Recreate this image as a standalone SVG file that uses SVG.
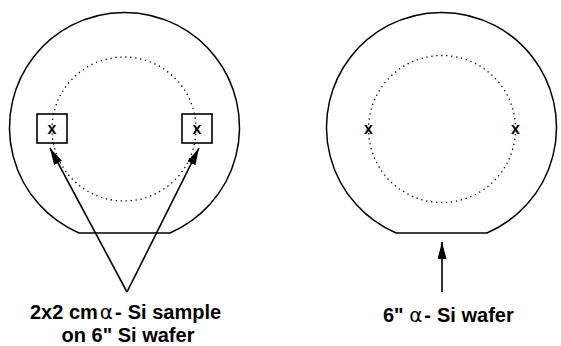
<svg xmlns="http://www.w3.org/2000/svg" width="561" height="346" viewBox="0 0 561 346">
<style>
.wafer{fill:none;stroke:#000;stroke-width:1.5}
.dot{fill:none;stroke:#000;stroke-width:1.3;stroke-dasharray:1.3 3.7}
.box{fill:none;stroke:#000;stroke-width:1.6}
.mark{font-family:"Liberation Sans",Arial,sans-serif;font-weight:bold;font-size:16px;text-anchor:middle}
.lbl{font-family:"Liberation Sans",Arial,sans-serif;font-weight:bold;font-size:20px}
.greek{font-family:"DejaVu Sans",sans-serif;font-weight:normal}
.conn{stroke:#000;stroke-width:1.6;fill:none}
</style>
<defs>
<marker id="ah" markerUnits="userSpaceOnUse" markerWidth="18" markerHeight="10" refX="17" refY="4.5" orient="auto">
<path d="M0,0 L17,4.5 L0,9 z" fill="#000"/>
</marker>
</defs>
<g id="left-wafer">
<path class="wafer" d="M79,233 L170,233 A115,115 0 1 0 79,233"/>
<circle class="dot" cx="124" cy="129" r="72"/>
</g>
<g id="sample-left">
<rect class="box" x="37" y="114" width="30" height="29"/>
<text class="mark" x="52" y="134">x</text>
</g>
<g id="sample-right">
<rect class="box" x="182" y="114" width="30" height="29"/>
<text class="mark" x="197" y="134">x</text>
</g>
<g id="right-wafer">
<path class="wafer" d="M396,233 L487,233 A115,115 0 1 0 396,233"/>
<circle class="dot" cx="442" cy="129" r="73.5"/>
<text class="mark" x="368.5" y="134">x</text>
<text class="mark" x="515.5" y="134">x</text>
</g>
<g id="connectors">
<line class="conn" x1="127" y1="292" x2="50" y2="148" marker-end="url(#ah)"/>
<line class="conn" x1="127" y1="292" x2="199" y2="148" marker-end="url(#ah)"/>
<line class="conn" x1="442" y1="292" x2="442" y2="242" marker-end="url(#ah)"/>
</g>
<g id="label-left">
<text class="lbl" x="30" y="318.5">2x2 cm<tspan class="greek" dx="2">α</tspan><tspan dx="2">-</tspan><tspan dx="6">Si sample</tspan></text>
<text class="lbl" x="128" y="342" text-anchor="middle">on 6" Si wafer</text>
</g>
<g id="label-right">
<text class="lbl" x="383" y="322">6" <tspan class="greek">α</tspan><tspan dx="2">-</tspan><tspan dx="6">Si wafer</tspan></text>
</g>
</svg>
